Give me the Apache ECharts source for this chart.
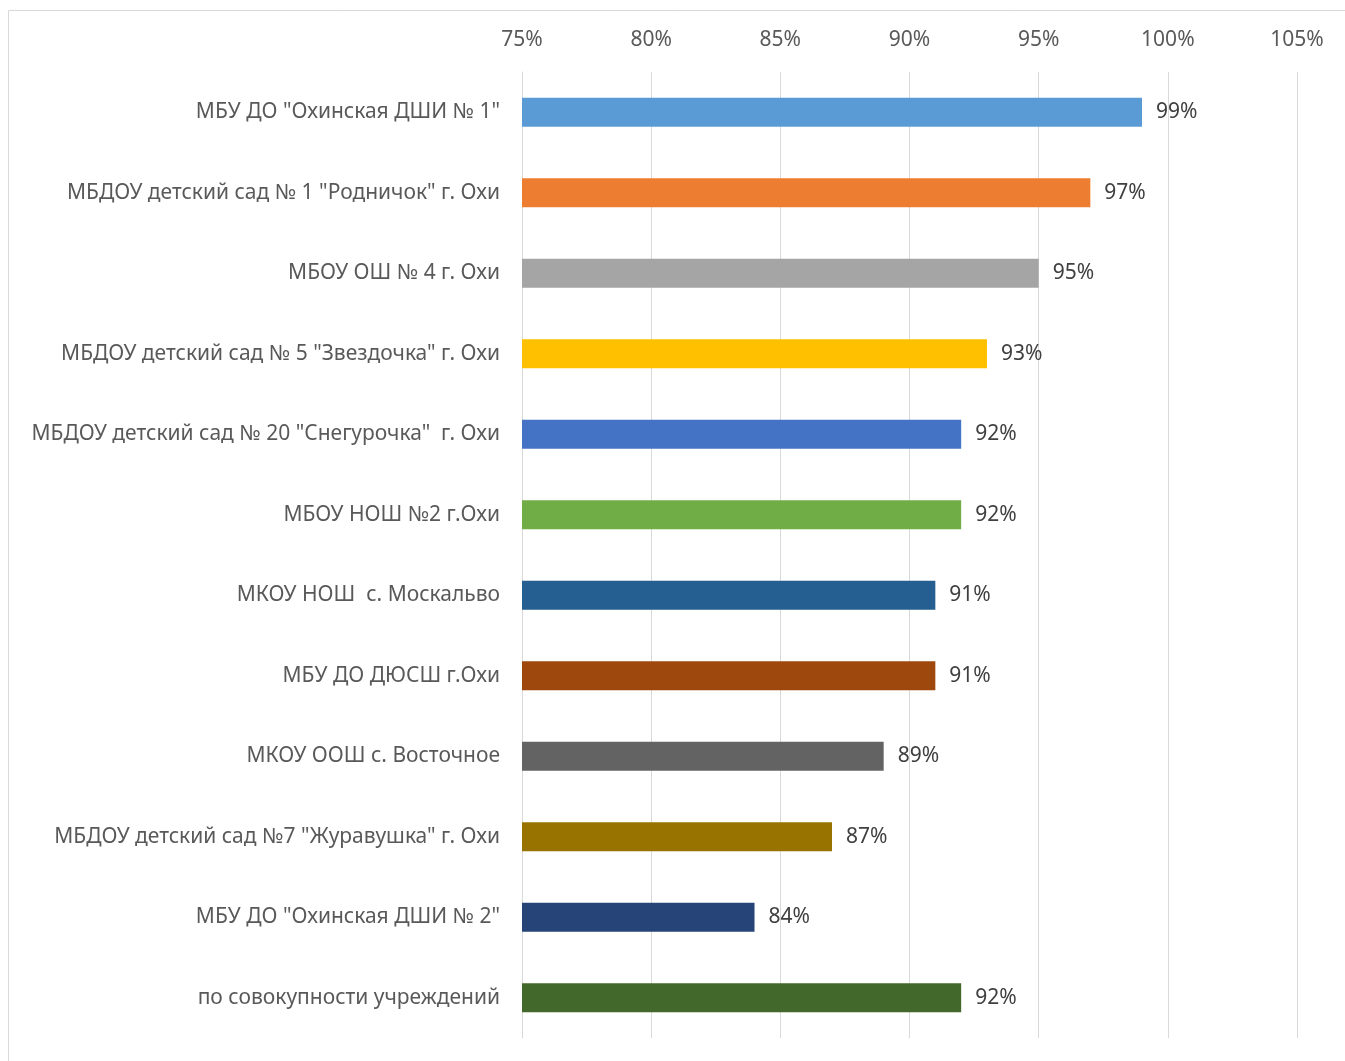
<!DOCTYPE html>
<html><head><meta charset="utf-8">
<script src="https://cdn.jsdelivr.net/npm/echarts@6/dist/echarts.min.js"></script>
<style>html,body{margin:0;padding:0;background:#fff}#c{width:1345px;height:1061px}</style>
</head><body><div id="c"></div>
<script>
const categories = [
  'МБУ ДО "Охинская ДШИ № 1"',
  'МБДОУ детский сад № 1 "Родничок" г. Охи',
  'МБОУ ОШ № 4 г. Охи',
  'МБДОУ детский сад № 5 "Звездочка" г. Охи',
  'МБДОУ детский сад № 20 "Снегурочка"  г. Охи',
  'МБОУ НОШ №2 г.Охи',
  'МКОУ НОШ  с. Москальво',
  'МБУ ДО ДЮСШ г.Охи',
  'МКОУ ООШ с. Восточное',
  'МБДОУ детский сад №7 "Журавушка" г. Охи',
  'МБУ ДО "Охинская ДШИ № 2"',
  'по совокупности учреждений'
];
const values = [99, 97, 95, 93, 92, 92, 91, 91, 89, 87, 84, 92];
const colors = ['#5B9BD5','#ED7D31','#A5A5A5','#FFC000','#4472C4','#70AD47','#255E91','#9E480E','#636363','#997300','#264478','#43682B'];
const axisMin = 75, axisMax = 105, axisStep = 5;

const chart = echarts.init(document.getElementById('c'));
const font = '"Noto Sans", "Open Sans", sans-serif';
chart.setOption({
  animation: false,
  graphic: [{type:'rect', shape:{x:8.5,y:10.5,width:1400,height:1100}, style:{fill:'none',stroke:'#d9d9d9',lineWidth:1}, silent:true}],
  grid: {left: 522, right: 48, top: 72, bottom: 23, containLabel: false},
  xAxis: {
    type: 'value', position: 'top', min: axisMin, max: axisMax, interval: axisStep,
    axisLine: {show: false}, axisTick: {show: false},
    splitLine: {show: true, lineStyle: {color: '#d9d9d9', width: 1}},
    axisLabel: {formatter: v => v + '%', color: '#595959', fontSize: 21, fontFamily: font, margin: 21}
  },
  yAxis: {
    type: 'category', inverse: true, data: categories,
    axisLine: {show: true, lineStyle: {color: '#d9d9d9'}}, axisTick: {show: false},
    axisLabel: {color: '#595959', fontSize: 21, fontFamily: font, margin: 22, padding: [3, 0, 0, 0]}
  },
  series: [{
    type: 'bar', barWidth: '36%',
    data: values.map((v, i) => ({value: v, itemStyle: {color: colors[i]}})),
    label: {show: true, position: 'right', distance: 14, formatter: p => p.value + '%', color: '#404040', fontSize: 21, fontFamily: font, padding: [4, 0, 0, 0]}
  }]
});
</script></body></html>
